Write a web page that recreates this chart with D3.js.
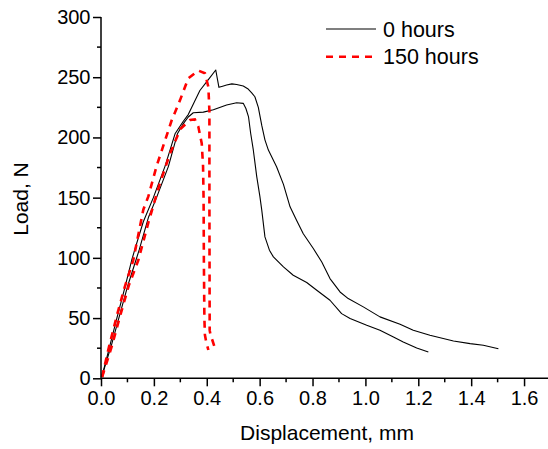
<!DOCTYPE html>
<html>
<head>
<meta charset="utf-8">
<script src="https://cdn.jsdelivr.net/npm/d3@7"></script>
<style>
  html, body { margin: 0; padding: 0; background: #fff; }
  svg { display: block; font-family: "Liberation Sans", Arial, sans-serif; }
</style>
</head>
<body>
<svg id="chart" width="548" height="449"></svg>
<script>
// ---- data (displacement mm, load N) ----
const seriesNames = ["0 hours", "150 hours"];

const hours0_a = [[0.004,2],[0.03,24],[0.06,50],[0.09,75],[0.116,98],[0.128,107],[0.16,130],[0.198,150],[0.242,176],[0.28,203],[0.31,213],[0.33,219],[0.352,229],[0.374,239],[0.406,248],[0.434,256],[0.446,241.6],[0.46,242.5],[0.475,243.5],[0.495,244.5],[0.513,244],[0.538,242.7],[0.555,240.5],[0.57,237],[0.582,233.8],[0.595,225],[0.608,210],[0.62,198],[0.633,189.5],[0.664,175.6],[0.69,161],[0.715,142.4],[0.74,131],[0.765,120],[0.803,107.8],[0.835,96.5],[0.842,93.5],[0.866,82.8],[0.904,71.7],[0.935,66.2],[0.992,59.3],[1.055,51],[1.131,44.9],[1.181,39.9],[1.244,35.7],[1.333,31],[1.396,28.8],[1.446,27.4],[1.503,24.6]];

const hours0_b = [[0.004,2],[0.04,28],[0.07,52],[0.1,76],[0.132,98],[0.145,107],[0.18,134],[0.21,150],[0.255,176],[0.289,203],[0.31,211],[0.33,217],[0.349,220.5],[0.387,221],[0.425,223],[0.475,226.9],[0.513,228.8],[0.538,228.3],[0.548,224],[0.558,217],[0.566,203.5],[0.576,189.6],[0.589,167.4],[0.601,150.8],[0.608,139.6],[0.62,117.4],[0.637,106.4],[0.652,100.8],[0.69,92.5],[0.727,85.6],[0.778,79.5],[0.816,73.1],[0.866,64.8],[0.91,53.7],[0.942,49.6],[1.005,44],[1.055,39.9],[1.106,34.3],[1.143,30.2],[1.194,25.2],[1.238,21.9]];

const hours150_a = [[0.004,1],[0.03,26],[0.06,52],[0.09,76],[0.122,98],[0.16,140],[0.179,151],[0.21,176],[0.24,196],[0.267,214],[0.299,231],[0.33,249],[0.368,255.5],[0.393,253.3],[0.406,242],[0.41,222],[0.41,148],[0.411,40],[0.415,35],[0.421,31.8],[0.431,25]];

const hours150_b = [[0.004,1],[0.04,26],[0.07,50],[0.105,77],[0.141,98],[0.18,130],[0.22,160],[0.26,186],[0.3,207],[0.337,214.5],[0.355,215],[0.368,209],[0.381,195],[0.386,176],[0.388,148],[0.389,100],[0.391,50],[0.393,36],[0.398,30],[0.406,23.5]];

const xMajorTicks = [0, 0.2, 0.4, 0.6, 0.8, 1.0, 1.2, 1.4, 1.6];
const xMinorTicks = [0.1, 0.3, 0.5, 0.7, 0.9, 1.1, 1.3, 1.5, 1.7];
const yMajorTicks = [0, 50, 100, 150, 200, 250, 300];
const yMinorTicks = [25, 75, 125, 175, 225, 275];

// ---- drawing ----
const svg = d3.select("#chart");
const x = d3.scaleLinear().domain([0, 1.7]).range([101, 550.5]);
const y = d3.scaleLinear().domain([0, 300]).range([378.3, 17]);

const line = d3.line().x(d => x(d[0])).y(d => y(d[1]));

const blackStyle = s => s.attr("fill", "none").attr("stroke", "#000").attr("stroke-width", 1.1).attr("stroke-linejoin", "round");
const redStyle = s => s.attr("fill", "none").attr("stroke", "#ff0000").attr("stroke-width", 2.6).attr("stroke-dasharray", "7,6");

[hours0_a, hours0_b].forEach(d => svg.append("path").attr("d", line(d)).call(blackStyle));
[hours150_a, hours150_b].forEach(d => svg.append("path").attr("d", line(d)).call(redStyle));

// axes
const xAxis = svg.append("g").attr("transform", `translate(0,${y(0)})`);
xAxis.call(d3.axisBottom(x).tickValues(xMajorTicks).tickSize(8).tickFormat(d3.format(".1f")));
xAxis.call(g => g.append("g").selectAll("line").data(xMinorTicks).join("line")
  .attr("x1", d => x(d)).attr("x2", d => x(d)).attr("y1", 0).attr("y2", 4).attr("stroke", "#000").attr("stroke-width", 1.5));

const yAxis = svg.append("g").attr("transform", `translate(${x(0)},0)`);
yAxis.call(d3.axisLeft(y).tickValues(yMajorTicks).tickSize(8));
yAxis.call(g => g.append("g").selectAll("line").data(yMinorTicks).join("line")
  .attr("y1", d => y(d)).attr("y2", d => y(d)).attr("x1", 0).attr("x2", -4).attr("stroke", "#000").attr("stroke-width", 1.5));

svg.selectAll(".domain").attr("stroke", "#000").attr("stroke-width", 1.5);
svg.selectAll(".tick line").attr("stroke", "#000").attr("stroke-width", 1.5);
xAxis.selectAll(".domain").attr("d", `M${x(0)},0H${x(1.7)}`);
yAxis.selectAll(".domain").attr("d", `M0,${y(0)}V${y(300)}`);
xAxis.selectAll(".tick text").attr("font-size", 20).attr("font-family", "Liberation Sans, Arial, sans-serif").attr("fill", "#000").attr("dy", "0.85em").attr("y", 10);
yAxis.selectAll(".tick text").attr("font-size", 20).attr("font-family", "Liberation Sans, Arial, sans-serif").attr("fill", "#000").attr("x", -10.5);

// axis titles
svg.append("text").attr("x", 327).attr("y", 440).attr("text-anchor", "middle")
  .attr("font-size", 21).text("Displacement, mm");
svg.append("text").attr("transform", "translate(28,199) rotate(-90)").attr("text-anchor", "middle")
  .attr("font-size", 21).text("Load, N");

// legend
const legend = svg.append("g");
const legendRows = [{name: seriesNames[0], y: 29, style: blackStyle}, {name: seriesNames[1], y: 56.7, style: redStyle}];
legendRows.forEach(r => {
  legend.append("path").attr("d", `M326,${r.y}H376`).call(r.style);
  legend.append("text").attr("x", 383).attr("y", r.y).attr("dy", "0.36em").attr("font-size", 21.5).text(r.name);
});
</script>
